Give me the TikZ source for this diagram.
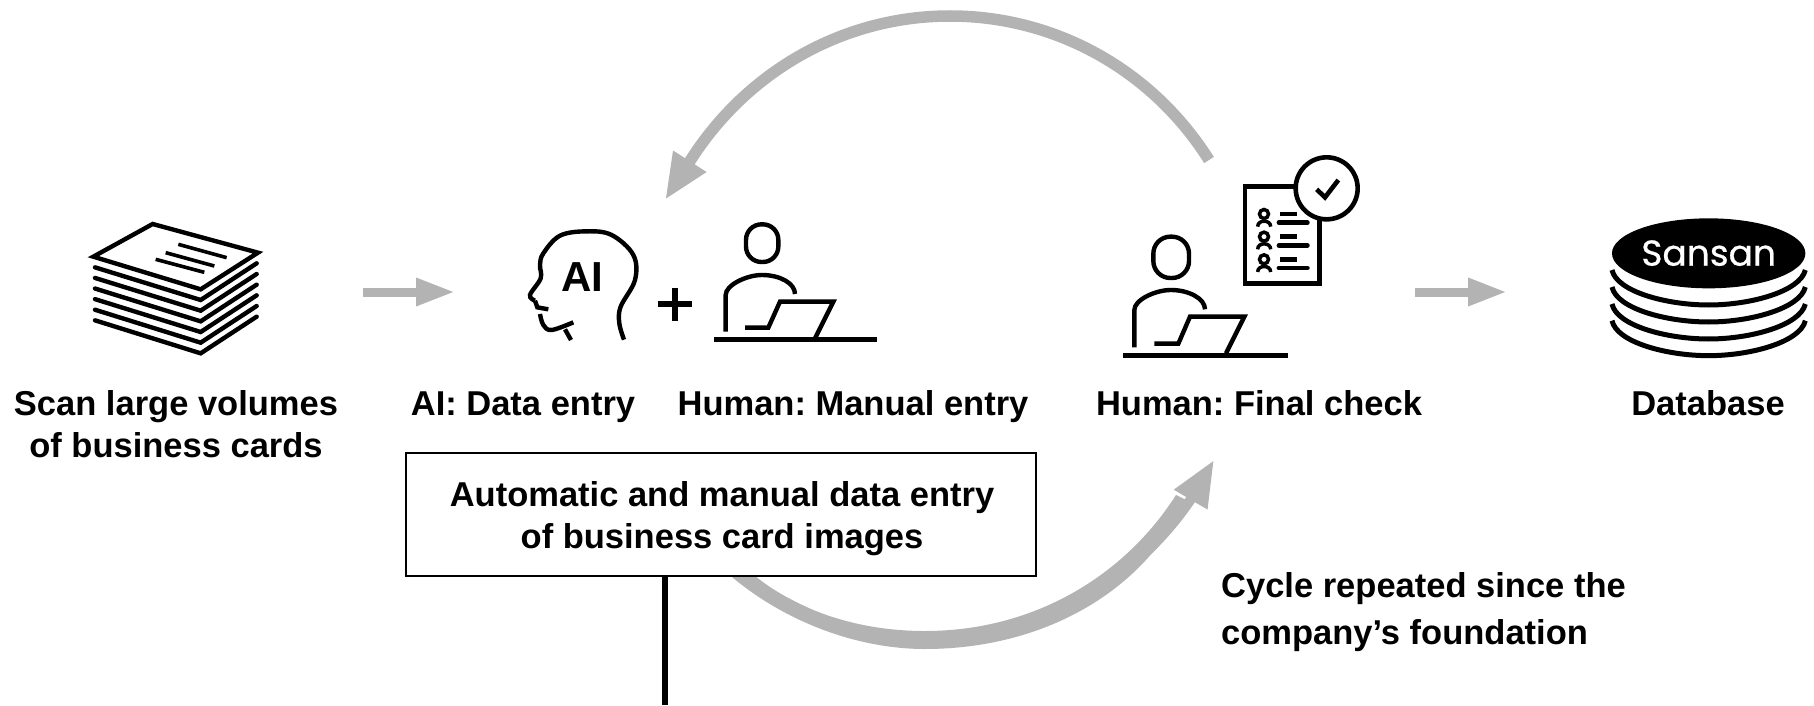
\documentclass[tikz,border=0pt]{standalone}
\usepackage{fontspec}
\setmainfont{Liberation Sans}
\newfontfamily\logofont[FakeBold=0.7]{Poppins}
\usetikzlibrary{arrows.meta,bending}
\definecolor{flowgray}{RGB}{179,179,179}
\frenchspacing
\tikzset{
  label/.style={inner sep=0pt,anchor=base,align=center,font=\fontsize{34.5}{40}\selectfont\bfseries,text=black},
  flowarrow/.style={draw=flowgray,line width=9pt,-{Triangle[length=39pt,width=26pt]},line cap=butt},
  cyclearrow/.style={draw=flowgray,line width=11.5pt,-{Triangle[length=46pt,width=36pt]},line cap=butt},
  icon/.style={line width=4.4pt,draw=black,line cap=butt,line join=miter},
  desk/.style={line width=5pt,draw=black},
  person/.style={line width=4.4pt,draw=black},
  smallbar/.style={line width=4.8pt,draw=black,line cap=round},
  zoomA/.style={x=0.33333pt,y=-0.33333pt}
}
\begin{document}
\begin{tikzpicture}[x=1pt,y=-1pt]
\useasboundingbox (0,0) rectangle (1814,706);
\fill[white] (0,0) rectangle (1814,706);

% cycle arrows
\coordinate (topTail) at (1209,160);
\coordinate (topApex) at (950,16);
\coordinate (topBase) at (690,161);
\coordinate (topTip) at (665,200);
\coordinate (botTail) at (735,570);
\coordinate (botStart) at (742,576);
\coordinate (botApex) at (925,640);
\coordinate (botBase) at (1191,499);
\coordinate (botTip) at (1214,460);
\draw[cyclearrow] (topTail) .. controls (1152.6,70.5) and (1056,16) .. (topApex)
   .. controls (844.2,16) and (747.4,70.5) .. (topBase) -- (topTip);
\fill[flowgray] (725,571) .. controls (780,620) and (855,649) .. (925,649)
   .. controls (1045,649) and (1145,590) .. (1186,500)
   -- (1176,495) .. controls (1125,575) and (1035,631) .. (925,631)
   .. controls (860,631) and (800,612) .. (755,576) -- cycle;
\draw[cyclearrow,line width=10pt] (botTail) -- (botStart) .. controls (797,613) and (857,640) .. (botApex)
   .. controls (1031.7,640) and (1131,587.6) .. (botBase) -- (botTip);

% straight arrows
\coordinate (a1s) at (363,292);
\coordinate (a1e) at (455,292);
\coordinate (a2s) at (1415,292);
\coordinate (a2e) at (1507,292);
\draw[flowarrow] (a1s) -- (a1e);
\draw[flowarrow] (a2s) -- (a2e);

% card stack
\begin{scope}[shift={(60,190)},zoomA]
  \draw[icon,miter limit=4] (278,102) -- (594,188) -- (422,298) -- (100,200) -- cycle;
  \draw[icon,line width=3.6pt] (355,163) -- (500,203);
  \draw[icon,line width=3.6pt] (317,188) -- (463,228);
  \draw[icon,line width=3.6pt] (287,208) -- (433,247);
  \foreach \d in {0,1,2,3,4,5}{
    \draw[icon,line cap=round] (105,{232+\d*31.8}) -- (422,{330+\d*32}) -- (590,{220+\d*32});
  }
\end{scope}

% AI head
\begin{scope}[shift={(500,190)},zoomA]
  \draw[icon] plot[smooth,tension=0.6] coordinates {(372,449) (358,400) (362,350) (405,270) (400,195) (335,135) (260,124) (180,137) (130,190) (120,225) (122,265) (90,315) (105,332)};
  \draw[icon] (105,332) -- (112,352) -- (145,358);
  \draw[icon] plot[smooth,tension=0.6] coordinates {(120,372) (130,405) (155,420) (220,397)};
  \draw[icon] (195,418) -- (213,450);
  \node[label,font=\fontsize{42}{42}\selectfont\bfseries] (aiText) at (246,305) {AI};
  \draw[icon,line width=5.2pt] (475,342) -- (575,342);
  \draw[icon,line width=5.2pt] (525,295) -- (525,392);
  \draw[person,rounded corners=15.5pt] (738,103) rectangle (835,216);
  \draw[person] (677,425) -- (677,315) .. controls (677,285) and (740,255) .. (786,255) .. controls (840,255) and (885,280) .. (885,312);
  \draw[person] (735,413) -- (805,413) -- (840,335) -- (1000,335) -- (945,445);
  \draw[desk] (642,447) -- (1130,447);
\end{scope}

% Human check
\begin{scope}[shift={(1100,140)},zoomA]
  \draw[person,rounded corners=17pt] (160,290) rectangle (267,414);
  \draw[person] (103,622) -- (103,510) .. controls (103,480) and (165,450) .. (213,450) .. controls (265,450) and (315,475) .. (315,508);
  \draw[person] (163,611) -- (235,611) -- (270,530) -- (433,530) -- (378,640);
  \draw[desk] (70,646) -- (565,646);
  \draw[icon,line width=4.6pt] (435,140) rectangle (658,430);
  \draw[icon,line width=4.6pt,fill=white] (680,145) circle[radius=31pt];
  \draw[icon,line width=4.6pt] (650,148) -- (675,172) -- (715,120);
  \foreach \d in {0,68,136}{
    \draw[line width=3.5pt] (492,{222+\d}) circle[radius=4.5pt];
    \draw[line width=3.5pt] (473,{260+\d}) .. controls (473,{238+\d}) and (512,{238+\d}) .. (512,{260+\d});
    \draw[smallbar,line cap=butt] (540,{222+\d}) -- (592,{222+\d});
    \draw[smallbar] (537,{248+\d}) -- (622,{248+\d});
  }
\end{scope}

% Sansan database
\begin{scope}[shift={(1400,200)},zoomA]
  \fill[black] (926,160) ellipse[x radius=96.7pt,y radius=35pt];
  \node[inner sep=0pt,anchor=base,text=white,font=\logofont\fontsize{36}{36}\selectfont] (logo) at (926,197) {Sansan};
  \foreach \d in {0,51,102,152}{
    \draw[line width=5pt] (636,{210+\d}) .. controls (650,{275+\d}) and (800,{315+\d}) .. (926,{315+\d}) .. controls (1050,{315+\d}) and (1200,{275+\d}) .. (1216,{210+\d});
  }
\end{scope}

% box and stem
\node[draw=black,line width=2pt,fill=white,minimum width=630pt,minimum height=123pt,inner sep=0pt] (box) at (721,514.5) {};
\coordinate (stemEnd) at (665,705);
\draw[line width=5.5pt,draw=black] (box.south -| stemEnd) -- (stemEnd);

% labels
\node[label] (scan1) at (176,415) {Scan large volumes};
\node[label] (scan2) at (176,457) {of business cards};
\node[label] (ai) at (523,415) {AI: Data entry};
\node[label] (human) at (853,415) {Human: Manual entry};
\node[label] (final) at (1259,415) {Human: Final check};
\node[label] (db) at (1708,415) {Database};
\node[label] (box1) at (722,506) {Automatic and manual data entry};
\node[label] (box2) at (722,548) {of business card images};
\node[label,anchor=base west] (cyc1) at (1221,597) {Cycle repeated since the};
\node[label,anchor=base west] (cyc2) at (1221,644) {company’s foundation};
\end{tikzpicture}
\end{document}
